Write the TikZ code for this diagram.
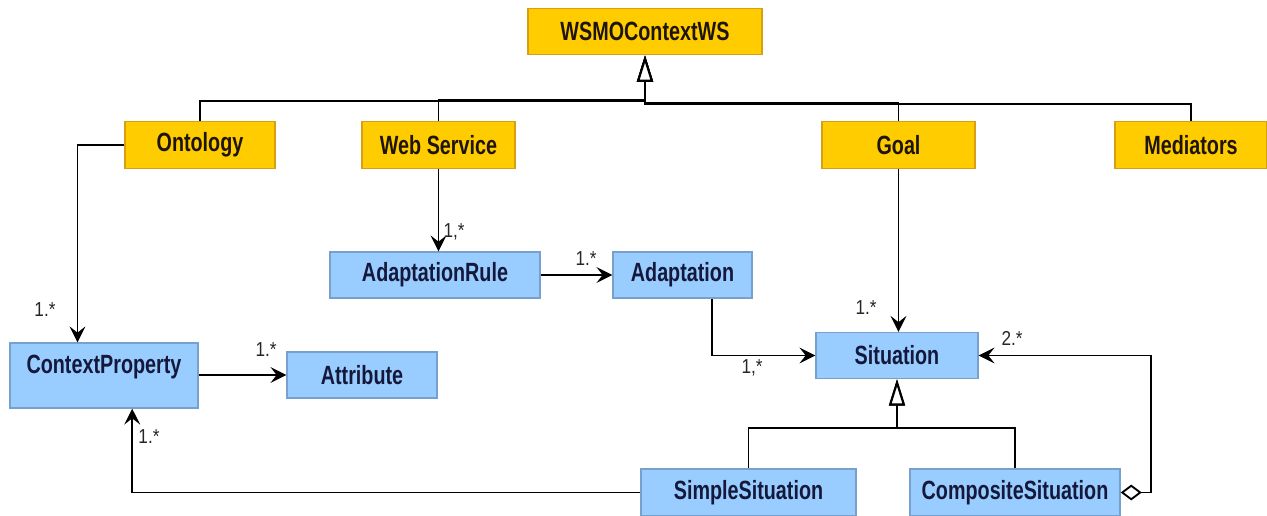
\documentclass[tikz,border=0pt]{standalone}
\usepackage{fontspec}
\setmainfont{Liberation Sans}
\newfontfamily\boxfont[FakeStretch=0.75]{Liberation Sans}
\newfontfamily\labfont[FakeStretch=0.85]{Liberation Sans}
\usetikzlibrary{arrows.meta,calc}
\definecolor{gold}{RGB}{255,204,0}
\definecolor{goldedge}{RGB}{215,160,20}
\definecolor{sky}{RGB}{153,204,255}
\definecolor{skyedge}{RGB}{120,160,205}
\definecolor{ink}{RGB}{30,20,10}
\definecolor{navy}{RGB}{20,25,60}
\begin{document}
\begin{tikzpicture}[x=0.02cm,y=-0.02cm,
  base/.style={line width=0.8pt,font=\boxfont\bfseries\fontsize{15}{17}\selectfont,inner sep=0pt},
  ybox/.style={base,fill=gold,draw=goldedge,text=ink,minimum height=0.93cm},
  bbox/.style={base,fill=sky,draw=skyedge,text=navy,minimum height=0.92cm},
  conn/.style={line width=1.05pt,draw=black},
  arr/.style={conn,-{Stealth[length=9pt,width=9pt,inset=3.5pt]}},
  inh/.style={conn,-{Triangle[open,length=15pt,width=9pt,fill=white,line width=1.2pt]}},
  agg/.style={conn,{Diamond[open,length=12pt,width=9pt,fill=white]}-{Stealth[length=9pt,width=9pt,inset=3.5pt]}},
  mult/.style={font=\labfont\fontsize{11.5}{13}\selectfont,text=black!85,inner sep=0pt}]
\useasboundingbox (0,0) rectangle (1267,516);
% class boxes
\node[ybox,minimum width=4.68cm] (top) at (645,31.5) {WSMOContextWS};
\node[ybox,minimum width=3cm] (ont) at (200,145) {Ontology};
\node[ybox,minimum width=3.06cm] (ws) at (438.5,145) {Web Service};
\node[ybox,minimum width=3.06cm] (goal) at (898.5,145) {Goal};
\node[ybox,minimum width=3.04cm] (med) at (1191,145) {Mediators};
\node[bbox,minimum width=4.2cm] (adr) at (435,275) {AdaptationRule};
\node[bbox,minimum width=2.78cm] (ada) at (682.5,275) {Adaptation};
\node[bbox,minimum width=3.76cm,minimum height=1.3cm,text height=0.38cm,text depth=0.44cm] (cp) at (104,375.5) {ContextProperty};
\node[bbox,minimum width=3cm] (att) at (362,375) {Attribute};
\node[bbox,minimum width=3.24cm] (sit) at (897,355.5) {Situation};
\node[bbox,minimum width=4.3cm,minimum height=0.94cm] (ss) at (748.5,492.5) {SimpleSituation};
\node[bbox,minimum width=4.2cm,minimum height=0.94cm] (cs) at (1015,492.5) {CompositeSituation};
% inheritance to WSMOContextWS
\coordinate (bar) at (645,101);
\draw[inh] (ont.north) |- (bar) -- (top.south);
\draw[inh] (ws.north) |- ([yshift=0.02cm]bar) -- (top.south);
\draw[inh] (goal.north) |- ([yshift=-0.04cm]bar) -- (top.south);
\draw[inh] (med.north) |- ([yshift=-0.06cm]bar) -- (top.south);
% inheritance to Situation
\coordinate (bar2) at (897,428);
\draw[inh] (ss.north) |- (bar2) -- (sit.south);
\draw[inh] (cs.north) |- (bar2) -- (sit.south);
% associations
\draw[arr] (ont.west) -| ($(cp.north west)!0.36!(cp.north east)$);
\draw[arr] (ws.south) -- (ws.south |- adr.north);
\draw[arr] (adr.east) -- (ada.west);
\draw[arr] ($(ada.south west)!0.71!(ada.south east)$) |- (sit.west);
\draw[arr] (goal.south) -- (goal.south |- sit.north);
\draw[agg] (cs.east) -- ++(30,0) |- (sit.east);
\draw[arr] (cp.east |- att.west) -- (att.west);
\draw[arr] (ss.west) -| ($(cp.south west)!0.649!(cp.south east)$);
% multiplicities
\node[mult] (m1) at (45,310) {1.*};
\node[mult] (m2) at (454,232) {1,*};
\node[mult] (m3) at (586,259) {1.*};
\node[mult] (m4) at (752,368) {1,*};
\node[mult] (m5) at (866,308) {1.*};
\node[mult] (m6) at (1012,338) {2.*};
\node[mult] (m7) at (266,350) {1.*};
\node[mult] (m8) at (149,437) {1.*};
\end{tikzpicture}
\end{document}
